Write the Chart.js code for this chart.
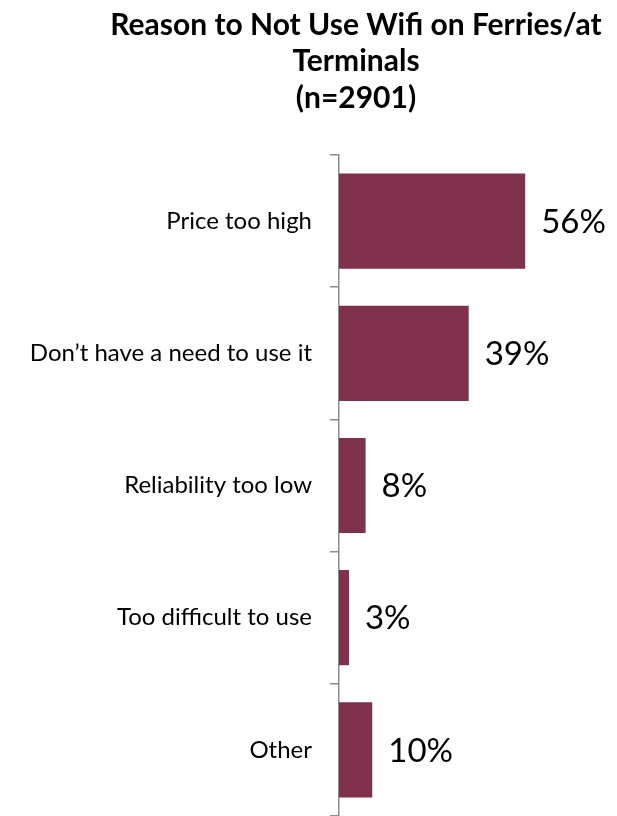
<!DOCTYPE html>
<html>
<head>
<meta charset="utf-8">
<script src="https://cdn.jsdelivr.net/npm/chart.js@4"></script>
<style>
  html, body { margin: 0; padding: 0; background: #fff; }
  #wrap { width: 617px; height: 816px; }
</style>
</head>
<body>
<div id="wrap"><canvas id="myChart" width="617" height="816"></canvas></div>
<script>
var titleLines = ['Reason to Not Use Wifi on Ferries/at', 'Terminals', '(n=2901)'];
var categories = ['Price too high', 'Don\u2019t have a need to use it', 'Reliability too low', 'Too difficult to use', 'Other'];
var percents = [56, 39, 8, 3, 10];

// title is drawn by hand so it can sit off-centre like the original
var titlePlugin = {
    id: 'handTitle',
    afterDraw: function(chart) {
        var c = chart.ctx;
        c.save();
        c.font = 'bold 30px Lato';
        c.fillStyle = '#000';
        c.textAlign = 'center';
        c.textBaseline = 'middle';
        var ys = [25, 61, 98];
        for (var i = 0; i < titleLines.length; i++) {
            c.fillText(titleLines[i], 356, ys[i]);
        }
        c.restore();
    }
};

// value labels to the right of each bar
var valuePlugin = {
    id: 'valueLabels',
    afterDatasetsDraw: function(chart) {
        var c = chart.ctx;
        var meta = chart.getDatasetMeta(0);
        c.save();
        c.font = '33px Lato';
        c.fillStyle = '#000';
        c.textAlign = 'left';
        c.textBaseline = 'middle';
        meta.data.forEach(function(bar, i) {
            c.fillText(percents[i] + '%', bar.x + 16, bar.y + 1);
        });
        c.restore();
    }
};

var ctx = document.getElementById('myChart').getContext('2d');
var myChart = new Chart(ctx, {
    type: 'bar',
    data: {
        labels: categories,
        datasets: [{
            data: percents,
            backgroundColor: '#7f304d',
            barPercentage: 0.72,
            categoryPercentage: 1.0
        }]
    },
    options: {
        indexAxis: 'y',
        responsive: false,
        animation: false,
        layout: { padding: { top: 155, right: 12, left: 0, bottom: 0 } },
        plugins: {
            legend: { display: false },
            title: { display: false },
            tooltip: { enabled: false }
        },
        scales: {
            x: {
                display: false,
                min: 0,
                max: 80
            },
            y: {
                afterFit: function(scale) {
                    scale.width = 339;
                    scale.paddingTop = 0;
                    scale.paddingBottom = 0;
                },
                grid: {
                    offset: true,
                    drawOnChartArea: false,
                    tickLength: 9,
                    color: '#8c8c8c',
                    lineWidth: 1.5
                },
                border: { display: true, color: '#8c8c8c', width: 1.5 },
                ticks: {
                    color: '#000',
                    padding: 18,
                    font: { family: 'Lato', size: 24 }
                }
            }
        }
    },
    plugins: [titlePlugin, valuePlugin]
});
</script>
</body>
</html>
